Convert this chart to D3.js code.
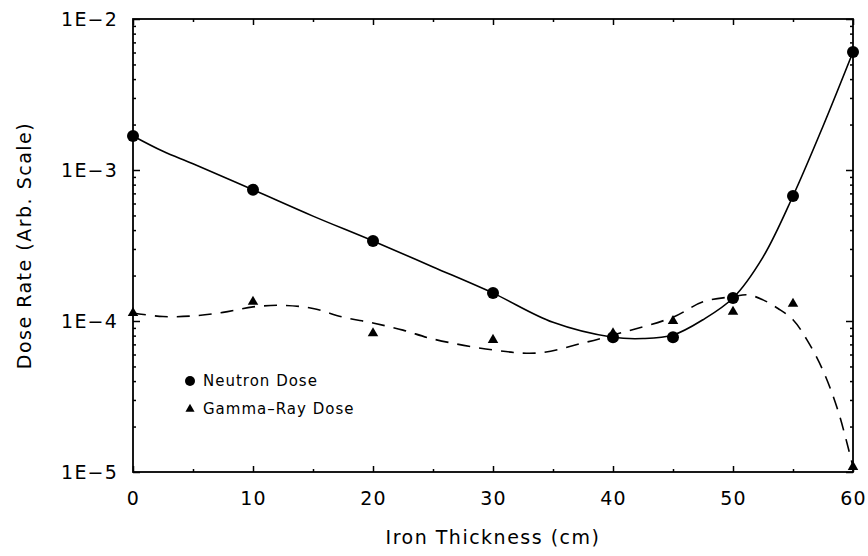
<!DOCTYPE html>
<html>
<head>
<meta charset="utf-8">
<script src="https://cdn.jsdelivr.net/npm/d3@7"></script>
<style>
  html, body { margin: 0; padding: 0; background: #fff; }
  svg { display: block; }
  text { font-family: "DejaVu Sans", sans-serif; fill: #000; }
</style>
</head>
<body>
<svg id="chart" width="868" height="556"></svg>
<script>
// ---- data ----
const thickness = [0, 10, 20, 30, 40, 45, 50, 55, 60];
const neutronDose = [1.68e-3, 7.4e-4, 3.39e-4, 1.53e-4, 7.8e-5, 7.8e-5, 1.42e-4, 6.73e-4, 6.05e-3];
const gammaDose   = [1.13e-4, 1.34e-4, 8.3e-5, 7.5e-5, 8.3e-5, 1.0e-4, 1.15e-4, 1.30e-4, 1.08e-5];

// fitted curves
const neutronFitX = [0, 2.5, 5, 10, 15, 20, 25, 30, 35, 40, 42.5, 45, 47.5, 50, 52.5, 55, 57.5, 60];
const neutronFitY = [1.68e-3, 1.33e-3, 1.10e-3, 7.4e-4, 4.95e-4, 3.39e-4, 2.28e-4, 1.53e-4, 9.8e-5, 7.8e-5, 7.65e-5, 8.07e-5, 1.02e-4, 1.42e-4, 2.65e-4, 6.73e-4, 1.95e-3, 6.05e-3];
const gammaFitX = [0, 2.5, 5, 7.5, 10, 12.5, 15, 17.5, 20, 22.5, 25, 30, 33.75, 37.5, 40, 45, 47.5, 50, 51.25, 52.5, 53.75, 55, 56.25, 57.5, 58.75, 60];
const gammaFitY = [1.13e-4, 1.07e-4, 1.08e-4, 1.14e-4, 1.24e-4, 1.27e-4, 1.21e-4, 1.06e-4, 9.7e-5, 8.7e-5, 7.6e-5, 6.43e-5, 6.14e-5, 7.15e-5, 8.07e-5, 1.06e-4, 1.34e-4, 1.45e-4, 1.49e-4, 1.38e-4, 1.21e-4, 1.02e-4, 7.3e-5, 4.7e-5, 2.55e-5, 1.08e-5];

const xMajorTicks = [0, 10, 20, 30, 40, 50, 60];
const xMinorTicks = [5, 15, 25, 35, 45, 55];
const yMajorTicks = [1e-5, 1e-4, 1e-3, 1e-2];
const legendLabels = ["Neutron Dose", "Gamma\u2013Ray Dose"];
const xTitle = "Iron Thickness (cm)";
const yTitle = "Dose Rate (Arb. Scale)";

// ---- layout ----
const W = 868, H = 556;
const m = { left: 133, top: 19, right: 15, bottom: 84 };
const iw = W - m.left - m.right, ih = H - m.top - m.bottom;

const svg = d3.select("#chart");
const g = svg.append("g").attr("transform", `translate(${m.left},${m.top})`);

const x = d3.scaleLinear().domain([0, 60]).range([0, iw]);
const y = d3.scaleLog().domain([1e-5, 1e-2]).range([ih, 0]);

const yMinorTicks = [];
yMajorTicks.slice(0, -1).forEach(d => { for (let k = 2; k <= 9; k++) yMinorTicks.push(d * k); });

const fmtY = d => "1E\u2212" + Math.round(-Math.log10(d));

function styleAxis(sel) {
  sel.selectAll(".domain").remove();
  sel.selectAll(".tick line").attr("stroke", "#000").attr("stroke-width", 1.5);
  sel.selectAll("text").attr("font-size", 19).attr("letter-spacing", 1.2)
     .style("font-family", '"DejaVu Sans", sans-serif');
}

// bottom
g.append("g").attr("transform", `translate(0,${ih})`)
  .call(d3.axisBottom(x).tickValues(xMajorTicks).tickSize(-6).tickPadding(19.5).tickFormat(d3.format("d")))
  .call(styleAxis);
g.append("g").attr("transform", `translate(0,${ih})`)
  .call(d3.axisBottom(x).tickValues(xMinorTicks).tickSize(-3).tickFormat(""))
  .call(styleAxis);
// top
g.append("g")
  .call(d3.axisTop(x).tickValues(xMajorTicks).tickSize(-6).tickFormat(""))
  .call(styleAxis);
g.append("g")
  .call(d3.axisTop(x).tickValues(xMinorTicks).tickSize(-3).tickFormat(""))
  .call(styleAxis);
// left
g.append("g")
  .call(d3.axisLeft(y).tickValues(yMajorTicks).tickSize(-7).tickPadding(15).tickFormat(fmtY))
  .call(styleAxis);
g.append("g")
  .call(d3.axisLeft(y).tickValues(yMinorTicks).tickSize(-3).tickFormat(""))
  .call(styleAxis);
// right
g.append("g").attr("transform", `translate(${iw},0)`)
  .call(d3.axisRight(y).tickValues(yMajorTicks).tickSize(-7).tickFormat(""))
  .call(styleAxis);
g.append("g").attr("transform", `translate(${iw},0)`)
  .call(d3.axisRight(y).tickValues(yMinorTicks).tickSize(-3).tickFormat(""))
  .call(styleAxis);

// frame
g.append("rect").attr("x", 0).attr("y", 0).attr("width", iw).attr("height", ih)
  .attr("fill", "none").attr("stroke", "#000").attr("stroke-width", 1.8);

// curves
const line = d3.line().x(d => x(d[0])).y(d => y(d[1])).curve(d3.curveCatmullRom.alpha(0.5));
g.append("path").datum(d3.zip(neutronFitX, neutronFitY))
  .attr("d", line).attr("fill", "none").attr("stroke", "#000").attr("stroke-width", 1.6);
g.append("path").datum(d3.zip(gammaFitX, gammaFitY))
  .attr("d", line).attr("fill", "none").attr("stroke", "#000").attr("stroke-width", 1.6)
  .attr("stroke-dasharray", "13,9");

// markers
const circ = d3.symbol().type(d3.symbolCircle).size(Math.PI * 6 * 6);
const tri = d3.symbol().type(d3.symbolTriangle).size(48);
g.append("g").selectAll("path").data(d3.zip(thickness, neutronDose)).join("path")
  .attr("transform", d => `translate(${x(d[0])},${y(d[1])})`).attr("d", circ).attr("fill", "#000");
g.append("g").selectAll("path").data(d3.zip(thickness, gammaDose)).join("path")
  .attr("transform", d => `translate(${x(d[0])},${y(d[1])})`).attr("d", tri).attr("fill", "#000");

// legend
const lg = svg.append("g").attr("transform", "translate(190,381)");
lg.append("path").attr("d", d3.symbol().type(d3.symbolCircle).size(Math.PI * 25)).attr("fill", "#000");
lg.append("path").attr("transform", "translate(0,28)").attr("d", d3.symbol().type(d3.symbolTriangle).size(36)).attr("fill", "#000");
lg.selectAll("text").data(legendLabels).join("text")
  .attr("x", 13).attr("y", (d, i) => i * 28).attr("dy", "0.36em")
  .attr("font-size", 15).attr("letter-spacing", 1).text(d => d);

// axis titles
svg.append("text").attr("x", m.left + iw / 2).attr("y", 544).attr("text-anchor", "middle")
  .attr("font-size", 19).attr("letter-spacing", 1.5).text(xTitle);
svg.append("text").attr("transform", `translate(31,${m.top + ih / 2}) rotate(-90)`)
  .attr("text-anchor", "middle").attr("font-size", 19).attr("letter-spacing", 1.5).text(yTitle);
</script>
</body>
</html>
